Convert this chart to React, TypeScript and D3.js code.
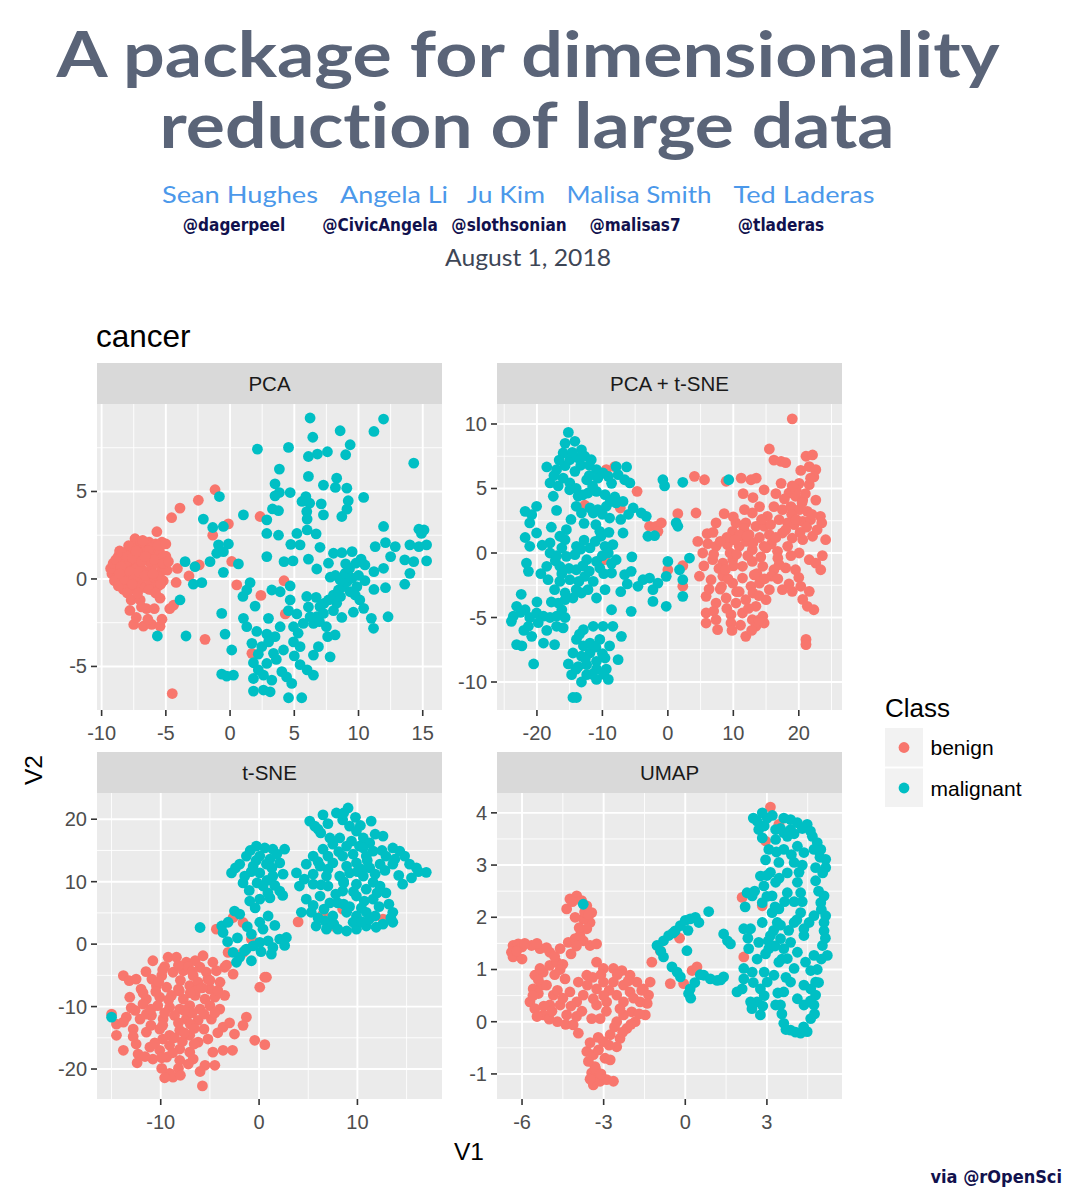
import React from "react";
import * as d3 from "d3";

type Pt = [number, number];

const classNames = ["benign", "malignant"];
const classColors = ["#F8766D", "#00BFC4"];

const titleLines = ["A package for dimensionality", "reduction of large data"];
const authorNames = ["Sean Hughes", "Angela Li", "Ju Kim", "Malisa Smith", "Ted Laderas"];
const authorHandles = ["@dagerpeel", "@CivicAngela", "@slothsonian", "@malisas7", "@tladeras"];
const dateText = "August 1, 2018";
const datasetName = "cancer";
const panelNames = ["PCA", "PCA + t-SNE", "t-SNE", "UMAP"];

const pcaXTicks = [-10, -5, 0, 5, 10, 15];
const pcaYTicks = [-5, 0, 5];
const ptsneXTicks = [-20, -10, 0, 10, 20];
const ptsneYTicks = [-10, -5, 0, 5, 10];
const tsneXTicks = [-10, 0, 10];
const tsneYTicks = [-20, -10, 0, 10, 20];
const umapXTicks = [-6, -3, 0, 3];
const umapYTicks = [-1, 0, 1, 2, 3, 4];

const pcaBenign: Pt[] = [
  [-9.2,0.3],[-8.9,0.6],[-8.8,0.1],[-8.6,0.9],[-8.5,-0.2],[-8.4,0.4],[-8.3,1.2],[-8.2,0.7],[-8.1,-0.4],[-8.0,0.2],
  [-7.9,1.5],[-7.8,0.9],[-7.7,-0.1],[-7.6,0.5],[-7.5,1.8],[-7.5,-0.6],[-7.4,1.1],[-7.3,0.3],[-7.2,2.1],[-7.1,-0.3],
  [-7.0,0.8],[-7.0,1.4],[-6.9,0.0],[-6.8,0.5],[-6.7,1.9],[-6.6,-0.5],[-6.5,1.1],[-6.4,0.3],[-6.3,2.1],[-6.2,-0.2],
  [-6.1,0.7],[-6.0,1.5],[-5.9,0.1],[-5.8,2.0],[-5.7,0.9],[-5.6,-0.4],[-5.5,1.6],[-5.4,0.4],[-5.3,1.2],[-5.2,-0.1],
  [-5.1,0.7],[-5.0,1.3],[-4.9,0.5],[-7.4,2.3],[-6.1,1.8],[-8.7,1.3],[-8.3,-0.6],[-9.0,-0.1],[-6.9,1.7],[-7.9,1.9],
  [-8.0,-0.8],[-7.7,-1.2],[-6.1,-0.6],[-7.0,-1.2],[-6.5,-1.7],[-7.8,-1.8],[-5.45,-1.1],[-7.5,-2.6],[-6.75,-2.7],[-6.1,-2.6],
  [-5.45,-2.7],[-6.96,2.1],[-5.3,2.1],[-8.6,1.6],[-6.3,1.0],[-7.3,0.6],[-8.1,1.0],[-5.7,0.2],
  [-9.3,0.6],[-9.1,0.9],[-8.9,1.1],[-8.7,-0.4],[-8.5,0.7],[-8.4,1.5],[-8.2,0.0],[-8.0,1.3],[-7.8,0.4],[-7.6,1.2],
  [-7.5,0.0],[-7.3,1.6],[-7.2,-0.8],[-7.1,0.4],[-6.9,1.0],[-6.8,2.2],[-6.6,0.2],[-6.4,1.6],[-6.3,-0.6],[-6.0,0.3],
  [-5.9,1.1],[-5.6,1.9],[-5.4,-0.3],[-5.2,0.9],[-5.0,2.0],[-4.8,1.0],[-6.6,1.3],[-7.6,-0.3],[-8.6,0.3],[-5.8,-0.8],
  [-6.9,-1.6],[-5.9,-1.7],[-7.3,-2.2],[-6.4,-2.3],[-5.3,-2.3],
  [-1.17,5.1],[-2.47,4.5],[-3.9,4.05],[-4.55,3.5],[-5.7,2.7],[-0.13,3.15],[-1.35,2.5],[2.34,3.57],[0.13,1.0],[-4.1,0.6],
  [-2.4,0.8],[-3.2,0.17],[-4.2,-0.2],[0.52,-0.34],[4.2,-0.1],[2.4,-0.94],[4.3,-2.0],[-1.95,-3.45],[1.7,-4.25],[-4.5,-6.55],
  [-4.7,-1.7],[-4.4,-1.5]
];
const pcaMalignant: Pt[] = [
  [6.23,9.2],[11.95,9.14],[8.57,8.47],[11.2,8.43],[6.44,8.1],[2.13,7.42],[4.55,7.52],[9.35,7.67],[6.1,7.0],[6.8,7.14],
  [7.58,7.27],[9.0,7.1],[14.3,6.62],[3.84,6.28],[6.1,5.86],[8.3,5.76],[3.5,5.44],[7.27,5.36],[8.2,5.23],[9.09,5.19],
  [3.84,4.94],[4.68,4.94],[3.5,4.75],[-0.83,4.71],[10.4,4.66],[5.9,4.71],[5.6,4.43],[9.2,4.47],[6.2,4.33],[7.1,4.29],
  [3.3,4.0],[3.77,3.9],[5.97,3.85],[9.1,3.99],[1.04,3.66],[-2.08,3.42],[7.27,3.66],[8.7,3.57],[2.86,3.38],[6.0,3.42],
  [-0.52,3.0],[-1.35,2.94],[11.95,3.0],[14.7,2.84],[15.1,2.8],[2.86,2.6],[3.77,2.5],[5.2,2.6],[6.0,2.8],[6.7,2.58],
  [14.9,2.6],[-0.9,1.95],[-0.13,2.0],[4.73,1.98],[5.45,1.95],[7.0,1.81],[11.3,1.85],[12.1,2.08],[12.86,1.85],[14.0,1.95],
  [14.7,1.85],[15.3,1.95],[-1.04,1.47],[-0.52,1.56],[2.86,1.28],[4.2,0.99],[4.9,1.03],[6.1,1.13],[8.05,1.47],[8.7,1.5],
  [9.5,1.56],[10.2,1.13],[12.5,1.28],[13.6,1.09],[14.3,0.99],[15.3,1.03],[-3.5,0.99],[-1.56,0.99],[0.65,0.86],[-2.73,0.7],
  [-0.52,0.38],[6.75,0.57],[7.66,0.9],[9.0,0.86],[11.2,0.42],[11.95,0.61],[14.0,0.32],[-2.86,-0.3],[-2.2,-0.21],[1.56,-0.21],
  [4.68,-0.4],[13.6,-0.3],[12.1,-0.5],[11.2,-0.6],[10.5,-0.1],[-3.9,-1.2],[-0.65,-1.97],[1.3,-0.63],[1.95,-1.55],[3.25,-0.63],
  [3.9,-0.73],[4.68,-1.2],[5.97,-1.0],[6.7,-1.05],[4.55,-1.81],[2.99,-2.25],[1.04,-2.25],[1.3,-2.73],[-0.39,-3.15],[2.08,-3.0],
  [-3.43,-3.26],[-5.66,-3.26],[2.86,-3.15],[3.9,-2.73],[4.94,-2.73],[5.7,-2.54],[6.75,-2.16],[7.5,-2.73],[8.18,-3.2],[11.17,-2.82],
  [11.0,-2.25],[12.3,-2.16],[0.13,-4.06],[1.7,-3.68],[2.47,-3.87],[3.38,-4.25],[4.16,-4.06],[4.94,-3.6],[5.45,-3.87],[6.49,-4.35],
  [7.79,-4.45],[6.88,-3.87],[1.82,-4.79],[2.86,-4.83],[4.03,-5.3],[5.45,-4.9],[6.49,-5.5],[-0.65,-5.44],[-0.26,-5.55],[0.26,-5.5],
  [1.82,-5.69],[2.6,-5.5],[3.25,-5.78],[1.82,-6.41],[2.6,-6.35],[3.12,-6.45],[4.8,-5.97],[4.55,-6.79],[5.58,-6.79],[7.0,-1.58],
  [7.3,-1.4],[7.66,-1.2],[8.05,-0.92],[8.44,-0.63],[8.83,-0.44],[9.1,-0.15],[9.35,-0.73],[9.74,-0.92],[10.1,-1.2],[10.4,-1.68],
  [8.57,-0.06],[8.96,0.32],[9.5,0.04],[9.87,-0.44],[6.49,-2.54],[6.23,-2.16],[6.96,-2.44],[8.05,-1.81],[8.3,-1.39],[7.27,-1.97],
  [8.2,0.2],[9.3,0.6],[10.0,0.2],[8.6,-1.0],[3.6,-4.6],[2.2,-5.2],[5.0,-4.4],[3.0,-3.6],[1.0,-1.0],[7.6,-3.3],
  [3.5,-3.3],[5.3,-3.1],[6.0,-5.2],[4.4,-5.6],[2.2,-4.3],[6.1,-1.6],[5.2,-2.0],[8.7,-2.2],[9.6,-1.9],[10.5,0.8],
  [9.8,0.9],[7.8,0.1]
];

const ptsneBenign: Pt[] = [
  [19.0,10.4],[15.5,8.06],[16.2,7.2],[17.3,7.1],[18.0,7.0],[21.1,7.5],[22.1,7.6],[21.6,6.7],[22.6,6.46],[22.3,5.9],
  [4.06,5.94],[5.6,5.68],[8.9,5.56],[11.2,5.8],[12.7,5.68],[13.5,5.8],[17.3,5.4],[20.05,5.4],[21.6,5.3],[14.7,4.9],
  [18.5,4.65],[19.5,4.4],[20.6,4.1],[22.6,4.1],[16.2,3.6],[17.5,3.36],[18.8,3.6],[20.05,3.36],[21.3,3.23],[14.0,3.6],
  [12.9,3.1],[11.7,3.36],[4.3,3.1],[1.52,3.05],[8.6,3.05],[23.3,2.84],[15.2,2.84],[17.0,2.58],[18.3,2.33],[19.3,2.2],
  [20.6,2.45],[21.8,2.58],[7.36,2.33],[10.4,2.33],[11.9,2.33],[13.45,2.07],[14.7,2.07],[23.5,2.33],[-2.8,2.07],[-1.78,2.07],
  [-1.0,2.33],[-1.52,1.68],[9.9,1.68],[10.9,1.3],[12.4,1.42],[15.5,1.42],[17.5,1.55],[19.0,1.16],[20.6,1.03],[22.1,1.3],
  [24.1,1.03],[4.57,0.9],[6.1,0.72],[7.36,0.52],[9.1,0.65],[10.9,0.52],[12.9,0.26],[14.7,0.52],[16.75,0.13],[18.3,0.52],
  [20.05,0.0],[21.6,-0.52],[22.6,-0.78],[23.35,-1.3],[5.33,0.0],[6.85,-0.52],[8.4,-0.78],[9.9,-0.52],[11.4,-1.03],[12.9,-0.65],
  [14.5,-1.03],[16.2,-1.3],[18.0,-1.16],[19.5,-1.3],[0.0,-1.3],[2.28,-0.98],[2.28,-2.58],[4.82,-1.8],[6.6,-2.07],[8.4,-1.8],
  [9.9,-2.33],[11.4,-1.94],[12.7,-2.58],[14.0,-2.33],[15.5,-2.84],[17.5,-2.84],[19.0,-2.97],[20.3,-2.58],[5.84,-3.36],[7.36,-3.88],
  [8.9,-3.49],[10.4,-3.88],[11.9,-3.62],[13.45,-4.13],[15.0,-3.62],[5.84,-4.65],[7.36,-5.17],[9.64,-4.78],[11.4,-4.65],[12.9,-5.17],
  [14.5,-4.9],[5.84,-5.43],[7.6,-5.94],[9.64,-5.43],[11.9,-6.46],[13.45,-5.68],[14.7,-5.43],[21.1,-6.7],[21.1,-7.1],[21.3,-4.13],
  [22.3,-4.4],[21.6,-2.97],[20.6,-3.6],[10.0,-1.0],[8.0,-2.8],[12.0,0.9],[13.6,-1.6],[15.8,0.7],[16.8,-0.4],[18.9,3.0],
  [20.2,1.6],[19.6,4.9],[21.0,4.6],[13.0,-3.1],[10.9,-3.0],[9.0,1.2],[11.6,1.9],[7.8,-1.2],[9.2,-2.0],[14.0,1.2],
  [6.0,1.5],[7.0,-0.1],[8.0,0.9],[8.8,-1.3],[9.5,0.0],[10.5,-0.1],[11.0,1.4],[12.2,-0.2],[13.0,0.8],[13.2,-1.7],
  [14.2,-0.3],[15.0,0.4],[15.8,-1.8],[16.5,1.2],[17.0,-0.9],[18.0,1.8],[18.8,-0.2],[19.6,2.6],[20.5,3.9],[21.2,2.0],
  [22.0,3.0],[22.8,1.8],[23.6,-0.2],[17.8,4.2],[19.0,5.2],[20.3,6.4],[21.8,5.8],[16.5,4.6],[15.7,2.2],[14.3,2.6],
  [13.0,4.3],[12.1,1.3],[10.2,1.0],[8.2,-2.6],[9.0,-4.3],[10.5,-3.0],[11.1,-5.6],[12.3,-4.3],[13.9,-3.3],[14.8,-2.0],
  [16.8,-2.0],[18.5,-2.4],[20.0,-1.9],[7.0,-4.5],[6.3,-2.8],[9.8,-6.0],[12.8,-6.0],[13.9,-5.2],[10.0,2.8],[11.5,4.6],
  [6.9,1.6],[5.5,-1.0],
  [-9.4,6.46],[-8.1,6.7],[-12.7,3.7],[-7.26,3.49],[-4.7,4.78],[-9.64,-0.52]
];
const ptsneMalignant: Pt[] = [
  [-15.2,9.35],[-15.7,8.5],[-14.2,8.66],[-13.2,8.0],[-16.0,7.75],[-14.98,7.23],[-13.7,7.36],[-12.7,7.5],[-11.7,7.23],[-18.5,6.67],
  [-17.0,6.46],[-15.7,6.77],[-14.2,6.33],[-10.9,6.46],[-7.9,6.7],[-6.3,6.67],[-18.0,5.43],[-16.75,5.2],[-14.97,5.43],[-12.4,5.68],
  [-10.7,5.8],[-9.1,5.94],[-7.6,6.07],[-6.6,5.68],[-5.8,5.43],[-17.5,4.4],[-13.7,4.4],[-12.2,4.65],[-10.9,4.78],[-9.6,4.52],
  [-8.1,4.34],[-6.85,4.0],[-0.76,5.68],[-0.5,5.2],[2.28,5.48],[9.3,5.68],[-14.0,3.62],[-11.9,3.49],[-10.7,3.36],[-9.4,3.62],
  [-7.9,3.88],[-5.3,3.49],[-4.06,3.1],[-3.3,2.84],[-21.8,3.23],[-20.8,2.97],[-20.05,3.62],[-13.2,3.1],[-11.4,3.1],[-8.9,2.71],
  [-21.1,2.33],[-20.05,1.55],[-15.5,1.81],[-16.5,1.3],[-10.4,1.68],[-10.2,1.3],[-6.85,1.55],[-3.05,1.3],[-2.03,1.34],[1.27,2.33],
  [1.52,2.07],[-21.1,0.52],[-18.0,0.78],[-15.7,1.03],[-13.96,0.52],[-11.9,0.39],[-9.6,0.52],[-8.4,0.65],[-18.0,0.0],[-15.5,-0.26],
  [-14.2,-0.13],[-12.4,-0.52],[-10.9,-0.65],[-9.1,0.0],[-7.9,-0.52],[-21.6,-0.78],[-21.3,-1.42],[-18.5,-1.03],[-16.5,-1.03],[-14.0,-1.3],
  [-10.4,-1.16],[-8.6,-1.55],[-6.6,-1.68],[-5.6,-1.42],[-18.3,-2.07],[-16.5,-2.2],[-14.97,-2.07],[-12.7,-1.81],[-11.4,-2.2],[-9.6,-2.84],
  [-17.3,-2.84],[-15.7,-3.1],[-14.0,-2.84],[-13.2,-3.1],[-12.2,-2.84],[-16.75,-3.88],[-15.7,-3.62],[-14.5,-3.49],[-10.9,-3.49],[-4.57,-2.58],
  [-3.8,-2.07],[-2.8,-1.94],[-2.28,-2.84],[-1.52,-2.33],[-0.25,-1.81],[0.0,-0.65],[1.78,-1.3],[2.28,-2.07],[2.28,-3.36],[3.3,-0.39],
  [-2.28,-3.75],[-0.25,-4.13],[-5.6,-4.52],[-8.6,-4.4],[-23.1,-4.13],[-23.6,-4.9],[-23.9,-5.3],[-21.8,-4.4],[-21.1,-5.0],[-20.05,-4.65],
  [-19.0,-4.9],[-18.0,-5.0],[-17.0,-4.9],[-15.7,-5.0],[-21.3,-5.68],[-17.0,-5.68],[-16.0,-5.8],[-23.1,-7.1],[-22.3,-7.2],[-20.8,-6.46],
  [-19.0,-6.98],[-17.3,-7.1],[-20.5,-8.6],[-12.9,-5.94],[-11.4,-5.68],[-9.9,-5.68],[-8.4,-5.68],[-7.1,-6.46],[-13.96,-6.7],[-12.9,-7.2],
  [-11.9,-6.98],[-10.4,-6.7],[-8.9,-7.2],[-14.5,-7.75],[-13.2,-8.0],[-11.9,-7.75],[-10.9,-8.4],[-9.6,-8.14],[-7.6,-8.27],[-15.2,-8.6],
  [-13.7,-8.8],[-12.4,-8.66],[-10.9,-9.0],[-9.4,-9.0],[-14.7,-9.43],[-12.4,-9.43],[-10.9,-9.8],[-9.1,-9.8],[-14.5,-11.2],[-13.96,-11.2],
  [-17.2,-0.6],[-16.2,0.4],[-12.8,1.0],[-11.0,2.2],[-13.0,-1.0],[-9.8,-1.6],[-19.4,-1.6],[-17.8,2.0],[-12.0,6.0],[-15.0,4.9],
  [-16.6,7.2],[-14.6,7.8],[-13.3,6.8],[-12.0,6.8],[-9.9,6.2],[-8.6,5.4],[-11.5,5.2],[-13.0,4.5],[-16.0,5.8],[-17.4,6.0],
  [-14.0,5.0],[-10.0,3.0],[-8.8,4.0],[-12.8,2.3],[-14.8,2.6],[-17.0,3.3],[-19.2,0.6],[-17.0,-0.2],[-16.2,-1.6],[-13.3,0.3],
  [-11.1,0.9],[-10.0,-0.2],[-8.6,-0.8],[-12.0,-1.4],[-13.6,-2.2],[-15.1,-1.2],[-17.8,-3.8],[-16.2,-4.4],[-19.8,-5.4],[-22.5,-4.6],
  [-22.0,-6.0],[-18.5,-6.0],[-13.5,-6.3],[-11.0,-7.3],[-12.6,-8.2],[-10.0,-7.8],[-14.0,-9.0],[-11.6,-9.4],[-13.2,-10.0],[-9.8,-9.4],
  [-20.0,-3.8],[-21.8,1.2],[-22.4,-3.2],[-9.0,1.6],[-7.2,2.6],[-6.0,3.0],[-5.5,-0.3],[-7.2,-3.0],[-6.2,-2.4]
];

const tsneBenign: Pt[] = [
  [-15.0,-11.2],[-13.8,-5.05],[-13.2,-5.85],[-10.8,-2.66],[-9.25,-2.1],[-8.4,-2.1],[-7.4,-2.9],[-6.5,-2.66],[-5.7,-1.86],[-4.7,-2.9],
  [-10.9,-5.6],[-9.9,-5.05],[-8.75,-4.5],[-7.7,-4.26],[-6.7,-5.05],[-5.36,-4.5],[-4.34,-4.26],[-12.0,-7.2],[-10.44,-6.65],[-9.4,-6.9],
  [-8.2,-7.2],[-7.05,-6.65],[-6.2,-6.1],[-5.0,-7.2],[-3.97,-6.1],[-13.15,-8.5],[-11.46,-8.8],[-10.1,-8.5],[-8.9,-8.2],[-7.7,-8.8],
  [-6.5,-8.2],[-5.5,-8.8],[-4.5,-8.5],[-10.3,-9.84],[-9.1,-10.1],[-8.07,-10.4],[-7.05,-9.84],[-6.0,-10.4],[-5.0,-9.84],[-4.0,-10.4],
  [-14.5,-12.8],[-13.5,-11.7],[-12.1,-12.0],[-10.95,-11.4],[-9.76,-12.0],[-8.6,-11.4],[-7.4,-12.0],[-6.2,-12.2],[-4.85,-12.0],[-3.66,-13.3],
  [-1.29,-11.7],[-1.63,-13.0],[-2.5,-14.4],[-14.5,-14.6],[-12.8,-13.6],[-11.46,-14.1],[-10.1,-13.6],[-9.1,-14.6],[-8.07,-13.8],[-7.05,-14.6],
  [-6.2,-15.7],[-0.44,-15.4],[0.58,-16.1],[-13.8,-17.0],[-12.5,-16.0],[-11.1,-16.5],[-10.1,-17.0],[-9.1,-16.2],[-8.07,-16.8],[-7.05,-17.3],
  [-12.3,-17.6],[-10.8,-18.4],[-9.4,-18.1],[-8.07,-18.6],[-6.7,-18.4],[-4.7,-17.3],[-3.66,-17.0],[-2.7,-17.0],[-5.5,-19.4],[-4.5,-19.4],
  [-9.9,-19.9],[-9.1,-20.7],[-8.2,-19.9],[-8.75,-21.3],[-5.76,-22.7],[-11.46,-11.2],[-12.6,-10.6],[-3.5,-3.7],[0.07,-6.9],[0.75,-5.3],
  [-9.6,-3.6],[-8.0,-5.8],[-6.4,-7.4],[-5.6,-13.6],[-7.8,-15.6],[-9.8,-15.2],[-11.8,-9.6],[-6.8,-11.0],[-5.2,-5.6],[-7.2,-3.6],
  [-13.0,-10.2],[-11.8,-7.8],[-10.5,-7.6],[-9.2,-8.9],[-8.1,-7.5],[-7.0,-7.8],[-5.8,-7.0],[-5.0,-5.8],[-6.0,-3.7],[-8.2,-3.4],
  [-9.8,-4.1],[-11.5,-4.4],[-12.5,-5.6],[-11.0,-10.4],[-9.6,-11.0],[-8.2,-12.6],[-7.0,-12.8],[-5.6,-11.2],[-4.5,-11.0],[-3.5,-8.2],
  [-4.2,-7.4],[-13.8,-12.5],[-12.8,-14.8],[-11.0,-13.0],[-9.8,-13.0],[-8.6,-15.0],[-7.6,-14.2],[-6.6,-16.0],[-10.6,-15.8],[-11.6,-18.0],
  [-9.9,-18.2],[-8.8,-17.4],[-7.2,-19.2],[-9.6,-21.4],[-8.0,-21.0],[-6.6,-13.5],[-5.2,-15.2],[-4.2,-14.2],[-3.0,-12.6],[-12.4,-19.0],
  [-6.0,-20.4],[-7.6,-10.6],[-10.2,-6.0],[-6.8,-4.4],
  [-2.64,4.26],[-1.63,3.46],[-4.34,2.4],[-0.78,0.8],[-3.15,-1.33],[-1.63,-1.33],[0.58,-5.3],[-2.64,-4.8],[-3.3,-3.35],
  [3.97,3.56],[6.5,4.8],[8.5,5.6],[12.6,4.0],[7.5,2.9]
];
const tsneMalignant: Pt[] = [
  [-15.0,-11.7],
  [9.05,21.8],[7.86,21.0],[6.5,20.7],[8.5,19.9],[11.4,19.7],[5.15,19.7],[5.66,18.9],[6.27,17.8],[9.2,18.9],[9.9,18.1],
  [10.6,17.0],[12.6,17.3],[8.2,17.0],[7.5,16.0],[6.5,15.2],[8.9,15.7],[10.2,15.7],[11.25,16.2],[13.6,15.4],[14.3,14.9],
  [14.8,14.1],[5.5,14.1],[7.0,14.1],[8.5,14.1],[9.56,14.4],[10.9,14.1],[11.6,14.9],[15.3,12.8],[16.0,12.2],[17.0,11.5],
  [15.5,10.6],[4.8,12.8],[6.2,12.5],[7.5,13.0],[8.9,12.5],[9.9,13.0],[11.25,12.2],[12.3,12.8],[3.8,11.4],[5.5,11.2],
  [6.85,10.9],[8.2,10.9],[9.2,11.4],[10.6,10.9],[11.8,11.2],[4.1,9.3],[5.5,9.6],[7.0,9.3],[8.5,8.5],[9.9,9.6],
  [10.9,8.8],[12.3,9.3],[12.9,8.2],[4.8,7.2],[6.2,7.7],[7.2,6.6],[8.0,6.6],[9.9,7.7],[10.7,6.9],[11.6,7.2],
  [4.3,5.1],[5.3,5.1],[6.7,3.7],[7.5,4.5],[8.9,5.1],[9.9,4.5],[10.9,5.1],[11.8,4.5],[13.6,5.1],[5.8,2.9],
  [6.85,2.4],[8.9,2.1],[9.9,2.4],[10.9,2.9],[11.9,2.7],[13.6,3.5],[9.56,3.5],[7.8,8.0],[10.4,12.0],[8.6,10.0],
  [6.0,18.4],[7.0,19.3],[8.6,21.0],[9.8,20.3],[10.3,19.0],[7.2,17.0],[9.4,16.5],[11.8,17.6],[10.6,15.4],[12.5,15.0],
  [12.9,14.1],[13.8,13.6],[6.0,13.2],[7.0,12.0],[8.1,14.8],[10.0,11.6],[11.0,13.4],[12.8,11.8],[13.6,12.8],[14.2,11.0],
  [4.6,10.4],[6.3,9.5],[8.6,9.8],[9.6,8.4],[11.6,9.9],[12.0,8.2],[13.2,6.4],[5.5,6.2],[6.6,5.6],[8.6,6.4],
  [9.2,6.0],[10.4,5.8],[12.2,6.0],[13.4,4.2],[12.6,3.2],[7.6,3.2],[8.0,2.4],[10.4,3.6],[6.0,4.2],[16.2,11.6],
  [14.6,9.6],[11.2,4.0],
  [0.58,15.4],[-0.27,15.7],[1.4,15.2],[2.6,15.2],[-1.29,14.1],[0.07,14.1],[1.1,13.6],[-1.97,12.8],[-0.6,12.5],[0.75,12.8],
  [2.1,13.0],[-2.8,11.4],[-1.46,10.9],[0.07,11.4],[1.4,10.9],[2.44,11.2],[-1.63,9.8],[0.4,9.3],[2.1,8.5],[-0.95,6.9],
  [0.07,7.2],[1.1,7.4],[-2.5,5.3],[-1.97,4.8],[0.07,3.5],[0.92,4.5],[-6.0,2.66],[-3.8,2.9],[-3.15,3.5],[-3.66,1.86],
  [-0.78,1.6],[-0.6,-0.27],[0.07,0.27],[0.92,0.53],[1.4,-0.53],[2.1,0.8],[2.78,1.06],[1.25,-1.6],[-1.29,-0.8],[-2.64,-1.33],
  [-1.97,-2.1],[-2.3,-2.9],[-0.78,-2.66],[-1.46,-1.06],
  [-0.9,15.0],[1.8,14.4],[-0.3,13.4],[1.3,12.2],[-2.4,12.2],[-0.8,11.6],[0.8,10.2],[-0.2,9.8],[1.6,9.4],[-1.0,8.6],
  [0.9,8.2],[2.4,7.8],[-0.4,5.8],[0.4,2.4],[1.6,3.0],[-1.2,2.8],[-2.2,1.0],[0.2,-1.2],[2.6,-0.2],[-3.2,0.4]
];

const umapBenign: Pt[] = [
  [-6.33,1.46],[-6.14,1.49],[-6.0,1.43],[-6.39,1.33],[-6.33,1.24],[-6.0,1.2],[-5.65,1.46],[-5.34,1.4],[-4.98,1.33],[-4.6,1.4],
  [-4.3,1.52],[-4.05,1.59],[-3.75,1.55],[-3.5,1.46],[-3.26,1.49],[-4.36,2.16],[-4.24,2.35],[-3.99,2.41],[-3.81,2.32],[-3.62,2.22],
  [-3.44,2.09],[-3.5,1.9],[-3.75,1.97],[-4.05,2.0],[-3.62,1.78],[-3.87,1.65],[-5.53,0.89],[-5.22,0.95],[-4.98,1.08],[-4.73,1.14],
  [-5.28,0.7],[-5.59,0.63],[-5.71,0.38],[-5.53,0.25],[-5.22,0.13],[-4.98,0.32],[-4.85,0.51],[-4.6,0.32],[-4.36,0.13],[-4.12,-0.06],
  [-3.93,-0.22],[-4.42,0.82],[-4.24,0.57],[-3.93,0.76],[-3.75,0.51],[-3.99,0.38],[-3.62,0.89],[-3.26,1.14],[-3.01,1.02],[-2.64,1.02],
  [-2.33,0.98],[-2.03,0.89],[-1.78,0.76],[-1.54,0.63],[-1.29,0.76],[-1.35,0.51],[-1.66,0.38],[-1.47,0.13],[-1.84,0.0],[-2.15,-0.13],
  [-2.4,-0.32],[-2.52,-0.48],[-2.76,-0.25],[-3.01,-0.38],[-3.13,0.06],[-3.44,0.06],[-3.26,0.32],[-2.89,0.38],[-2.52,0.51],[-2.27,0.38],
  [-2.03,0.57],[-2.27,0.7],[-2.64,0.76],[-3.01,0.76],[-3.26,0.63],[-3.38,0.44],[-2.27,0.13],[-1.97,0.19],[-2.52,0.0],[-3.62,-0.57],
  [-3.38,-0.63],[-3.19,-0.54],[-3.56,-0.76],[-3.32,-0.86],[-3.44,-0.98],[-3.26,-1.08],[-3.38,-1.21],[-3.13,-1.14],[-2.89,-1.11],[-2.64,-1.14],
  [-2.95,-0.7],[-2.76,-0.73],[-5.34,1.02],[-5.1,0.7],[-5.4,0.54],[-4.8,0.9],[-4.5,1.1],[-4.7,0.0],[-5.0,0.05],[-2.9,0.2],
  [-6.2,1.35],[-5.9,1.5],[-5.45,1.5],[-5.1,1.42],[-4.8,1.25],[-5.4,0.8],[-5.6,0.5],[-5.45,0.1],[-5.2,0.3],[-4.7,0.6],
  [-4.5,0.45],[-4.2,0.3],[-4.0,0.1],[-3.8,0.2],[-3.6,0.7],[-3.4,0.85],[-3.1,0.9],[-2.8,0.6],[-2.5,0.9],[-2.1,0.78],
  [-1.9,0.45],[-1.6,0.6],[-1.4,0.35],[-1.7,0.15],[-2.0,-0.05],[-2.3,-0.2],[-2.6,-0.1],[-2.8,-0.45],[-3.2,-0.3],[-3.5,-0.4],
  [-3.3,-0.9],[-3.1,-1.0],[-3.5,-1.1],[-4.2,1.3],[-3.9,1.8],[-3.7,2.1],[-4.15,2.3],[-3.55,2.05],[-4.0,1.45],[-4.6,1.0],
  [-4.9,0.2],[-3.0,0.5],[-2.4,0.25],[-4.4,-0.05],
  [-1.23,1.14],[-0.92,1.36],[-0.21,1.6],[-0.55,0.73],[-0.06,0.73],[0.25,0.98],[0.43,1.05],[2.09,2.38],[2.83,2.22],[2.15,1.24],
  [3.13,4.11],[3.44,3.78],[2.95,3.46]
];
const umapMalignant: Pt[] = [
  [-3.75,2.25],
  [-1.04,1.46],[-0.8,1.55],[-0.61,1.65],[-0.37,1.74],[-0.18,1.84],[0.0,1.94],[0.18,1.97],[0.37,2.0],[0.86,2.11],[-0.8,1.24],
  [-0.49,1.05],[-0.18,0.86],[0.06,1.36],[0.12,0.54],[0.18,0.63],[0.68,0.89],[0.92,0.82],[1.17,0.79],[1.41,0.86],[1.41,1.68],
  [1.66,1.49],[2.15,1.78],
  [-0.9,1.35],[-0.45,1.7],[0.1,1.75],[0.5,1.9],[-0.3,0.95],[0.35,0.75],[0.55,0.9],[1.3,0.8],[1.55,1.55],[0.2,0.45],
  [2.64,3.84],[2.83,4.0],[3.01,3.9],[3.32,3.68],[3.62,3.9],[3.87,3.87],[4.12,3.81],[4.48,3.78],[4.67,3.55],[4.85,3.43],
  [4.98,3.3],[5.16,3.11],[5.16,2.95],[4.91,3.27],[4.73,3.3],[2.7,3.68],[2.83,3.52],[3.07,3.3],[3.32,3.49],[3.62,3.62],
  [3.87,3.68],[3.62,3.3],[4.12,3.36],[4.36,3.24],[3.44,3.05],[4.0,3.05],[4.18,2.86],[4.12,2.67],[4.24,2.47],[3.75,2.47],
  [3.44,2.16],[2.76,2.79],[3.13,2.86],[3.32,2.67],[2.89,2.6],[3.19,2.41],[2.27,2.47],[2.46,2.41],[2.4,1.78],[2.83,1.9],
  [3.19,2.09],[3.38,1.9],[3.13,1.65],[3.5,1.59],[3.87,1.52],[4.12,1.33],[4.36,1.65],[4.55,1.9],[4.73,2.03],[4.98,2.28],
  [5.1,2.41],[5.16,2.03],[5.1,1.74],[5.04,1.46],[5.22,1.27],[4.73,1.27],[4.42,1.14],[4.61,0.98],[4.79,0.76],[4.61,0.63],
  [4.36,0.7],[4.79,0.51],[4.73,0.32],[4.61,0.06],[4.48,-0.19],[4.24,-0.22],[3.87,-0.16],[3.62,-0.03],[3.5,0.32],[3.32,0.32],
  [3.62,0.57],[3.87,0.76],[4.0,1.02],[3.75,1.21],[3.44,1.14],[3.26,0.89],[3.01,0.76],[2.76,0.63],[2.64,0.38],[2.76,0.13],
  [2.4,0.38],[2.09,0.63],[1.9,0.57],[2.15,0.82],[2.46,0.95],[2.64,1.2],[2.95,1.3],[2.15,1.02],[2.33,1.4],[2.7,1.52],
  [3.07,1.4],[4.0,1.9],[4.24,2.09],[4.36,1.78],[3.62,1.4],[4.12,0.44],[4.36,0.32],[2.83,2.28],[4.79,2.95],[4.79,2.7],
  [2.5,3.9],[2.9,3.75],[3.2,3.95],[3.5,3.7],[3.75,3.55],[4.0,3.6],[4.3,3.7],[4.6,3.65],[4.95,3.15],[5.05,2.85],
  [4.9,2.5],[5.0,2.15],[5.1,1.9],[5.15,1.6],[5.0,1.2],[4.85,1.0],[4.9,0.75],[4.6,0.4],[4.75,0.15],[4.35,-0.1],
  [4.05,-0.2],[3.7,-0.15],[3.55,0.15],[3.4,0.55],[3.7,0.85],[3.55,1.2],[3.3,1.45],[3.05,1.55],[3.25,1.75],[3.5,1.85],
  [3.8,1.75],[4.1,1.95],[4.3,2.3],[4.0,2.3],[3.65,2.3],[3.3,2.2],[3.0,2.4],[3.0,2.8],[3.45,2.75],[3.75,2.85],
  [4.3,3.0],[3.9,3.2],[3.35,3.25],[2.95,3.1],[2.55,2.5],[2.2,2.2],[2.3,1.6],[2.5,0.75],[2.9,0.5],[2.9,0.95],
  [2.45,0.25],[2.85,0.3]
];

type PanelSpec = {
  name: string;
  benign: Pt[];
  malignant: Pt[];
  xTicks: number[];
  yTicks: number[];
  xDomain: [number, number];
  yDomain: [number, number];
  left: number;
  top: number;
};

const FONT = "'Liberation Sans', Arial, Helvetica, sans-serif";

function Panel({ p }: { p: PanelSpec }) {
  const W = 345;
  const stripH = 41;
  const plotH = 306;
  const x = d3.scaleLinear().domain(p.xDomain).range([0, W]);
  const y = d3.scaleLinear().domain(p.yDomain).range([plotH, 0]);
  const step = p.xTicks[1] - p.xTicks[0];
  const ystep = p.yTicks[1] - p.yTicks[0];
  const xMinor = d3.range(p.xTicks[0] - step / 2, p.xDomain[1], step).filter((v) => v > p.xDomain[0] && v < p.xDomain[1]);
  const yMinor = d3.range(p.yTicks[0] - ystep / 2, p.yDomain[1], ystep).filter((v) => v > p.yDomain[0] && v < p.yDomain[1]);
  const r = 5.4;
  return (
    <g transform={`translate(${p.left},${p.top})`}>
      <rect x={0} y={0} width={W} height={stripH} fill="#d9d9d9" />
      <text x={W / 2} y={stripH / 2 + 7.5} textAnchor="middle" fontSize={20.5} fill="#1a1a1a" fontFamily={FONT}>{p.name}</text>
      <g transform={`translate(0,${stripH})`}>
        <rect x={0} y={0} width={W} height={plotH} fill="#ebebeb" />
        {xMinor.map((v) => <line key={"xm" + v} x1={x(v)} x2={x(v)} y1={0} y2={plotH} stroke="#fff" strokeWidth={0.9} />)}
        {yMinor.map((v) => <line key={"ym" + v} y1={y(v)} y2={y(v)} x1={0} x2={W} stroke="#fff" strokeWidth={0.9} />)}
        {p.xTicks.map((v) => <line key={"xM" + v} x1={x(v)} x2={x(v)} y1={0} y2={plotH} stroke="#fff" strokeWidth={1.9} />)}
        {p.yTicks.map((v) => <line key={"yM" + v} y1={y(v)} y2={y(v)} x1={0} x2={W} stroke="#fff" strokeWidth={1.9} />)}
        {p.benign.map((d, i) => <circle key={"b" + i} cx={x(d[0])} cy={y(d[1])} r={r} fill={classColors[0]} />)}
        {p.malignant.map((d, i) => <circle key={"m" + i} cx={x(d[0])} cy={y(d[1])} r={r} fill={classColors[1]} />)}
        {p.xTicks.map((v) => (
          <g key={"xt" + v}>
            <line x1={x(v)} x2={x(v)} y1={plotH} y2={plotH + 6} stroke="#333" strokeWidth={1.6} />
            <text x={x(v)} y={plotH + 30} textAnchor="middle" fontSize={20} fill="#4d4d4d" fontFamily={FONT}>{v}</text>
          </g>
        ))}
        {p.yTicks.map((v) => (
          <g key={"yt" + v}>
            <line x1={-6} x2={0} y1={y(v)} y2={y(v)} stroke="#333" strokeWidth={1.6} />
            <text x={-10} y={y(v) + 7} textAnchor="end" fontSize={20} fill="#4d4d4d" fontFamily={FONT}>{v}</text>
          </g>
        ))}
      </g>
    </g>
  );
}

export default function App() {
  const panels: PanelSpec[] = [
    { name: panelNames[0], benign: pcaBenign, malignant: pcaMalignant, xTicks: pcaXTicks, yTicks: pcaYTicks, xDomain: [-10.36, 16.5], yDomain: [-7.49, 10.0], left: 97, top: 363 },
    { name: panelNames[1], benign: ptsneBenign, malignant: ptsneMalignant, xTicks: ptsneXTicks, yTicks: ptsneYTicks, xDomain: [-26.1, 26.6], yDomain: [-12.17, 11.55], left: 497, top: 363 },
    { name: panelNames[2], benign: tsneBenign, malignant: tsneMalignant, xTicks: tsneXTicks, yTicks: tsneYTicks, xDomain: [-16.48, 18.6], yDomain: [-24.8, 24.2], left: 97, top: 752 },
    { name: panelNames[3], benign: umapBenign, malignant: umapMalignant, xTicks: umapXTicks, yTicks: umapYTicks, xDomain: [-6.92, 5.76], yDomain: [-1.48, 4.38], left: 497, top: 752 },
  ];
  const nameX = [240, 394, 506, 639, 804];
  const nameW = [156, 108, 78, 145, 141];
  const handleX = [234, 380, 509, 635, 781];
  const titleFont = "Lato, 'Open Sans', sans-serif";
  return (
    <svg width={1082} height={1200} style={{ position: "absolute", left: 0, top: 0, background: "#fff" }}>
      <rect width={1082} height={1200} fill="#fff" />
      <text x={528} y={77} textAnchor="middle" fontSize={63} fontWeight={700} fill="#5a6478" fontFamily={titleFont} textLength={943} lengthAdjust="spacingAndGlyphs" style={{ fontVariantLigatures: "none" }}>{titleLines[0]}</text>
      <text x={527} y={148} textAnchor="middle" fontSize={63} fontWeight={700} fill="#5a6478" fontFamily={titleFont} textLength={735} lengthAdjust="spacingAndGlyphs" style={{ fontVariantLigatures: "none" }}>{titleLines[1]}</text>
      {authorNames.map((n, i) => (
        <text key={n} x={nameX[i]} y={203} textAnchor="middle" fontSize={23.5} fill="#4b98ea" fontFamily="Lato, sans-serif" textLength={nameW[i]} lengthAdjust="spacingAndGlyphs">{n}</text>
      ))}
      {authorHandles.map((n, i) => (
        <text key={n} x={handleX[i]} y={231} textAnchor="middle" fontSize={17} fontWeight={700} fill="#11114d" fontFamily="'DejaVu Sans', sans-serif" style={{ fontStretch: "condensed" }}>{n}</text>
      ))}
      <text x={528} y={266} textAnchor="middle" fontSize={23} fill="#3d4656" fontFamily="Lato, sans-serif" textLength={166} lengthAdjust="spacingAndGlyphs">{dateText}</text>
      <text x={96} y={347} fontSize={31.5} fill="#000" fontFamily={FONT}>{datasetName}</text>
      {panels.map((p) => <Panel key={p.name} p={p} />)}
      <text transform="translate(42,770) rotate(-90)" textAnchor="middle" fontSize={24.5} fill="#000" fontFamily={FONT}>V2</text>
      <text x={469} y={1160} textAnchor="middle" fontSize={24.5} fill="#000" fontFamily={FONT}>V1</text>
      <text x={885} y={717} fontSize={26} fill="#000" fontFamily={FONT}>Class</text>
      {classNames.map((c, i) => (
        <g key={c} transform={`translate(885,${728 + i * 40.5})`}>
          <rect x={0} y={0} width={38} height={38.5} fill="#f2f2f2" />
          <circle cx={19} cy={19.5} r={5.4} fill={classColors[i]} />
          <text x={45.5} y={27} fontSize={21} fill="#000" fontFamily={FONT}>{c}</text>
        </g>
      ))}
      <text x={1062} y={1183} textAnchor="end" fontSize={18} fontWeight={700} fill="#11114d" fontFamily="'DejaVu Sans', sans-serif" style={{ fontStretch: "condensed" }}>via @rOpenSci</text>
    </svg>
  );
}
